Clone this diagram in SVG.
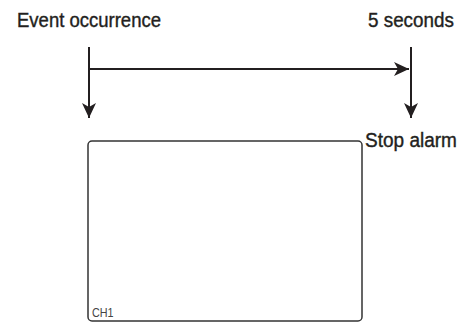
<svg xmlns="http://www.w3.org/2000/svg" width="462" height="322" viewBox="0 0 462 322">
<style>
.lbl{font-family:"Liberation Sans",Arial,sans-serif;font-size:21px;fill:#231f20;stroke:#231f20;stroke-width:0.4}
.ln{stroke:#231f20;stroke-width:2;fill:none}
.ch{font-family:"Liberation Sans",Arial,sans-serif;font-size:12px;fill:#444}
</style>
<defs>
<marker id="ah" markerWidth="16" markerHeight="14" refX="15" refY="7" orient="auto" markerUnits="userSpaceOnUse">
<path d="M0,0 L15,7 L0,14 L4,7 Z" fill="#231f20"/>
</marker>
</defs>
<g id="label-event"><text class="lbl" transform="translate(17,27) scale(0.882,1)">Event occurrence</text></g>
<g id="label-5s"><text class="lbl" transform="translate(368,27) scale(0.898,1)">5 seconds</text></g>
<g id="label-stop"><text class="lbl" transform="translate(365,147) scale(0.906,1)">Stop alarm</text></g>
<g id="screen">
<rect x="88" y="141" width="274" height="180" rx="4" ry="4" fill="#fff" stroke="#333" stroke-width="1.5"/>
<text class="ch" transform="translate(92,317) scale(0.9,1)">CH1</text>
</g>
<g id="connectors">
<line class="ln" x1="89" y1="47" x2="89" y2="118" marker-end="url(#ah)"/>
<line class="ln" x1="89" y1="69" x2="409" y2="69" marker-end="url(#ah)"/>
<line class="ln" x1="411" y1="47" x2="411" y2="118" marker-end="url(#ah)"/>
</g>
</svg>
